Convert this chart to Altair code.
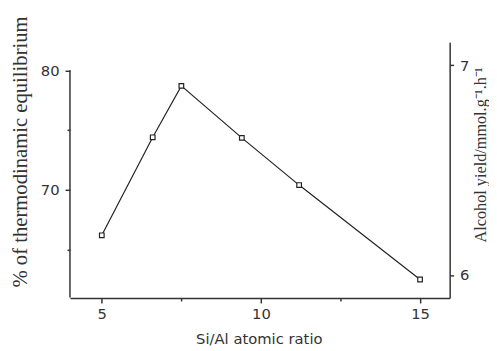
import altair as alt
import pandas as pd

si_al = [5.0, 6.6, 7.5, 9.4, 11.2, 15.0]
pct_equilibrium = [66.2, 74.4, 78.7, 74.35, 70.4, 62.5]
right_ticks = [6, 7]
left_axis_span = [61, 80]

df = pd.DataFrame({"x": si_al, "y": pct_equilibrium})
span_df = pd.DataFrame({"lo": [left_axis_span[0]], "hi": [left_axis_span[1]]})
right_df = pd.DataFrame({"v": right_ticks})

INK = "#333333"
xscale = alt.Scale(domain=[4.0, 15.93], nice=False, zero=False)
yscale = alt.Scale(domain=[60.95, 82.35], nice=False, zero=False)

x_axis = alt.Axis(
    values=[5, 7.5, 10, 12.5, 15],
    labelExpr="datum.value % 5 == 0 ? datum.label : ''",
    tickSize={"condition": {"test": "datum.value % 5 == 0", "value": 5}, "value": 3},
    grid=False, domainColor=INK, domainWidth=1.5, tickColor=INK, tickWidth=1.5,
    labelFont="DejaVu Sans", labelFontSize=15, labelColor=INK, labelPadding=4,
    title="Si/Al atomic ratio", titleFont="DejaVu Sans", titleFontSize=15,
    titleFontWeight="normal", titleColor=INK, titleX=192, titleY=46,
    titleBaseline="alphabetic", titleAlign="center",
)

y_axis = alt.Axis(
    values=[65, 70, 75, 80],
    labelExpr="datum.value % 10 == 0 ? datum.label : ''",
    tickSize={"condition": {"test": "datum.value % 10 == 0", "value": 5}, "value": 3},
    grid=False, domain=False, tickColor=INK, tickWidth=1.5,
    labelFont="DejaVu Sans", labelFontSize=15, labelColor=INK, labelPadding=6,
    title="% of thermodinamic equilibrium", titleFont="Liberation Serif",
    titleFontSize=21, titleFontWeight="normal", titleColor=INK,
    titleAngle=270, titleX=-40, titleY=111, titleAlign="center",
    titleBaseline="bottom",
)

line = alt.Chart(df).mark_line(color="#222222", strokeWidth=1.2).encode(
    x=alt.X("x:Q", scale=xscale, axis=x_axis),
    y=alt.Y("y:Q", scale=yscale, axis=y_axis),
)
points = alt.Chart(df).mark_point(
    shape="square", size=22, filled=False, color="#222222", strokeWidth=1.2,
    fill="white", fillOpacity=1,
).encode(x=alt.X("x:Q", scale=xscale), y=alt.Y("y:Q", scale=yscale))

axis_line = alt.Chart(span_df).mark_rule(color=INK, strokeWidth=1.5).encode(
    x=alt.value(0),
    y=alt.Y("lo:Q", scale=yscale),
    y2="hi:Q",
)

left = alt.layer(line, axis_line, points)

right = alt.Chart(right_df).mark_point(opacity=0).encode(
    x=alt.value(0),
    y=alt.Y(
        "v:Q",
        scale=alt.Scale(domain=[5.89, 7.11], nice=False, zero=False),
        axis=alt.Axis(
            orient="right", values=right_ticks, format="d", grid=False,
            domainColor=INK, domainWidth=1.5, tickColor=INK, tickWidth=1.5,
            tickSize=4, labelFont="DejaVu Sans", labelFontSize=15,
            labelColor=INK, labelPadding=6,
            title="Alcohol yield/mmol.g⁻¹.h⁻¹", titleFont="Liberation Serif",
            titleFontSize=16.5, titleFontWeight="normal", titleColor=INK,
            titleAngle=270, titleX=39, titleY=114, titleAlign="center",
            titleBaseline="bottom",
        ),
    ),
)

chart = alt.layer(left, right).resolve_scale(y="independent").properties(
    width=386, height=260,
    background="white",
    autosize=alt.AutoSizeParams(type="none"),
    padding={"left": 63, "top": 32, "right": 40, "bottom": 50},
).configure_view(stroke=None, strokeWidth=0)

chart.save("out.html", embed_options={"renderer": "svg", "actions": False})
